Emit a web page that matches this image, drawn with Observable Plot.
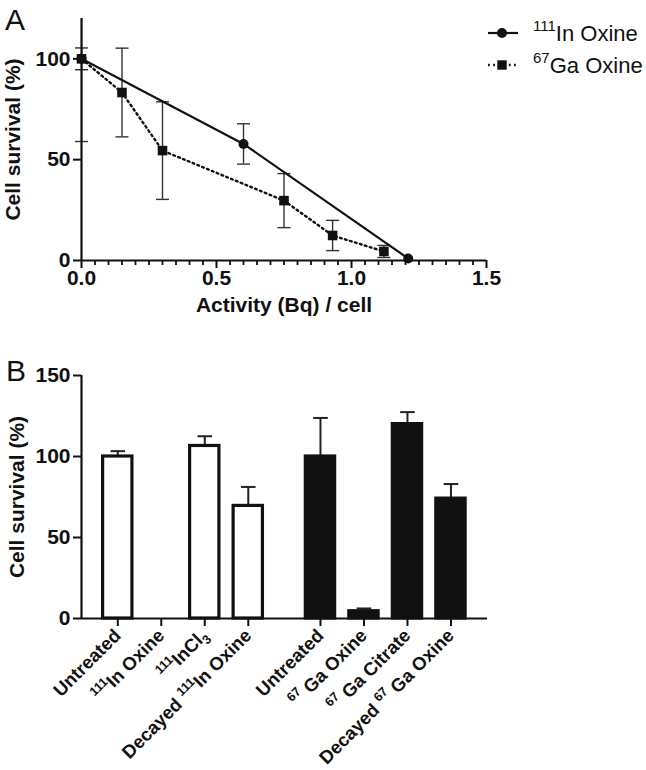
<!DOCTYPE html>
<html><head><meta charset="utf-8">
<script src="https://cdn.jsdelivr.net/npm/d3@7"></script>
<script src="https://cdn.jsdelivr.net/npm/@observablehq/plot@0.6"></script>
<style>
body{margin:0;background:#fff;font-family:"Liberation Sans",Arial,Helvetica,sans-serif;color:#111;}
#wrap{position:relative;width:646px;height:770px;overflow:hidden;}
.panel{position:absolute;left:0;}
.plabel{position:absolute;font-size:30px;line-height:1;color:#111;}
svg text{font-family:"Liberation Sans",Arial,Helvetica,sans-serif;}
</style></head>
<body>
<div id="wrap">
  <div class="panel" id="pa" style="top:0"></div>
  <div class="panel" id="pb" style="top:320px"></div>
  <div class="plabel" style="left:5px;top:5px">A</div>
  <div class="plabel" style="left:6px;top:356px">B</div>
  <svg id="legend" style="position:absolute;left:480px;top:15px" width="166" height="70"></svg>
</div>
<script>
// ---------- Panel A data ----------
const inActivity = [0, 0.6, 1.21];
const inSurvival = [100, 57.8, 1];
const inError    = [5.4, 10, 0];
const gaActivity = [0, 0.15, 0.3, 0.75, 0.93, 1.12];
const gaSurvival = [100, 83.3, 54.5, 29.7, 12.4, 4.5];
const gaError    = [41, 22, 24.2, 13.4, 7.5, 3];
const aXTicks = [0, 0.5, 1.0, 1.5];
const aYTicks = [0, 50, 100];
const seriesNames = ["¹¹¹In Oxine", "⁶⁷Ga Oxine"];

// ---------- Panel B data ----------
const bCategories = ["Untreated", "¹¹¹In Oxine", "¹¹¹InCl₃", "Decayed ¹¹¹In Oxine",
                     "Untreated", "⁶⁷ Ga Oxine", "⁶⁷ Ga Citrate", "Decayed ⁶⁷ Ga Oxine"];
const bGroups = ["In", "In", "In", "In", "Ga", "Ga", "Ga", "Ga"];
const bSurvival = [100, 0, 106.5, 69.5, 100, 4.5, 120, 74];
const bError    = [3.3, 0, 6, 11.7, 23.8, 1.7, 7.4, 9];
const bYTicks = [0, 50, 100, 150];

const FONT = "Liberation Sans, Arial, Helvetica, sans-serif";
const INK = "#111";
const FS = 21;
const BFS = 18.5;
const capSymbol = {draw(ctx, size){ const r = Math.sqrt(size / Math.PI); ctx.moveTo(-r, 0); ctx.lineTo(r, 0); }};

function rows(xs, ys, es, series){
  return xs.map((x, i) => ({x, y: ys[i], e: es[i], series}));
}
const inRows = rows(inActivity, inSurvival, inError, "In");
const gaRows = rows(gaActivity, gaSurvival, gaError, "Ga");
const allRows = inRows.concat(gaRows);
const errRows = allRows.filter(d => d.e > 0);
const capRows = errRows.flatMap(d => [{x: d.x, y: d.y - d.e}, {x: d.x, y: d.y + d.e}]);
const minorTicks = d3.range(1, 30).map(i => i * 0.05).filter(v => Math.abs(v * 2 - Math.round(v * 2)) > 1e-6);

const yTop = 120;
const plotA = Plot.plot({
  width: 646, height: 320,
  marginLeft: 81, marginRight: 160, marginTop: 18, marginBottom: 60,
  style: {fontFamily: FONT, color: INK, background: "white", overflow: "visible"},
  x: {domain: [0, 1.5]},
  y: {domain: [0, yTop]},
  marks: [
    Plot.ruleX(errRows, {x: "x", y1: d => d.y - d.e, y2: d => d.y + d.e, stroke: "#333", strokeWidth: 1.4, clip: true}),
    Plot.dot(capRows.filter(d => d.y <= yTop), {x: "x", y: "y", symbol: capSymbol, r: 6.5, fill: "none", stroke: "#333", strokeWidth: 1.4}),
    Plot.line(gaRows, {x: "x", y: "y", stroke: INK, strokeWidth: 2.4, strokeDasharray: "1.8 3.4"}),
    Plot.line(inRows, {x: "x", y: "y", stroke: INK, strokeWidth: 2.2}),
    Plot.dot(inRows, {x: "x", y: "y", r: 5, fill: INK}),
    Plot.dot(gaRows, {x: "x", y: "y", symbol: "square", r: 5.4, fill: INK}),
    Plot.ruleX([0], {stroke: INK, strokeWidth: 2.2}),
    Plot.ruleY([0], {stroke: INK, strokeWidth: 2.2}),
    Plot.axisY(aYTicks, {tickSize: 8, tickPadding: 3, fontSize: FS, fontWeight: "bold", strokeWidth: 2, label: null}),
    Plot.axisX(aXTicks, {tickSize: 8, tickPadding: 2, fontSize: FS, fontWeight: "bold", strokeWidth: 2, tickFormat: d3.format(".1f"), label: null}),
    Plot.axisX(minorTicks, {tickSize: 5, strokeWidth: 1.8, tickFormat: () => "", label: null}),
    Plot.text(["Cell survival (%)"], {frameAnchor: "left", textAnchor: "middle", rotate: -90, dx: -68, fontSize: FS, fontWeight: "bold", fill: INK}),
    Plot.text(["Activity (Bq) / cell"], {frameAnchor: "bottom", dy: 51, fontSize: FS, fontWeight: "bold", fill: INK})
  ]
});
document.getElementById("pa").appendChild(plotA);

// ---------- Panel B ----------
const groupGap = 0.66;   // extra spacing between the two groups
const groupOrder = ["In", "Ga"];
const bRows = bCategories.map((c, i) => ({
  label: c, group: bGroups[i], v: bSurvival[i], e: bError[i],
  pos: i + groupOrder.indexOf(bGroups[i]) * groupGap
}));
const half = 0.337;
const xDomB = [-0.834, bRows[bRows.length - 1].pos + 0.84];
const labelByPos = new Map(bRows.map(d => [d.pos, d.label]));

const plotB = Plot.plot({
  width: 646, height: 450,
  marginLeft: 81, marginRight: 159, marginTop: 55, marginBottom: 152,
  style: {fontFamily: FONT, color: INK, background: "white", overflow: "visible"},
  x: {type: "linear", domain: xDomB},
  y: {domain: [0, 150]},
  marks: [
    Plot.ruleX(bRows.filter(d => d.e > 0), {x: "pos", y1: "v", y2: d => d.v + d.e, stroke: "#222", strokeWidth: 2}),
    Plot.dot(bRows.filter(d => d.e > 0), {x: "pos", y: d => d.v + d.e, symbol: capSymbol, r: 7.3, fill: "none", stroke: "#222", strokeWidth: 2}),
    Plot.rectY(bRows.filter(d => d.v > 0), {x1: d => d.pos - half, x2: d => d.pos + half, y: "v",
      fill: d => d.group === "In" ? "white" : INK, stroke: INK, strokeWidth: 3.2}),
    Plot.ruleX([xDomB[0]], {stroke: INK, strokeWidth: 2.2}),
    Plot.ruleY([0], {stroke: INK, strokeWidth: 2.2}),
    Plot.axisY(bYTicks, {tickSize: 8, tickPadding: 3, fontSize: FS, fontWeight: "bold", strokeWidth: 2, label: null}),
    Plot.axisX(bRows.map(d => d.pos), {tickSize: 8, tickPadding: 6, tickRotate: -45, fontSize: BFS, fontWeight: "bold", strokeWidth: 2,
      tickFormat: p => labelByPos.get(p), label: null}),
    Plot.text(["Cell survival (%)"], {frameAnchor: "left", textAnchor: "middle", rotate: -90, dx: -64, fontSize: FS, fontWeight: "bold", fill: INK})
  ]
});
document.getElementById("pb").appendChild(plotB);

// superscript / subscript rendering for labels
const supMap = {"¹": "1", "⁶": "6", "⁷": "7"};
const subMap = {"₃": "3"};
function fancify(el, base){
  const s = el.textContent;
  if (!/[¹⁶⁷₃]/.test(s)) return;
  const runs = [];
  for (const ch of s) {
    const kind = supMap[ch] ? "sup" : subMap[ch] ? "sub" : "n";
    const c = supMap[ch] || subMap[ch] || ch;
    if (runs.length && runs[runs.length - 1].kind === kind) runs[runs.length - 1].t += c;
    else runs.push({kind, t: c});
  }
  el.textContent = "";
  let shift = 0;
  for (const r of runs) {
    const ts = document.createElementNS("http://www.w3.org/2000/svg", "tspan");
    const target = r.kind === "sup" ? -0.42 * base : r.kind === "sub" ? 0.25 * base : 0;
    ts.setAttribute("dy", (target - shift).toFixed(2));
    shift = target;
    if (r.kind !== "n") ts.setAttribute("font-size", (base * 0.68).toFixed(1));
    ts.textContent = r.t;
    el.appendChild(ts);
  }
}
plotB.querySelectorAll("text").forEach(t => fancify(t, BFS));

// legend
const lg = d3.select("#legend");
const legendRows = [{name: seriesNames[0], y: 18, kind: "In"}, {name: seriesNames[1], y: 50, kind: "Ga"}];
legendRows.forEach(r => {
  lg.append("line").attr("x1", 8).attr("x2", 38).attr("y1", r.y).attr("y2", r.y)
    .attr("stroke", INK).attr("stroke-width", r.kind === "In" ? 2.2 : 2.4)
    .attr("stroke-dasharray", r.kind === "In" ? null : "1.8 3.4");
  if (r.kind === "In") lg.append("circle").attr("cx", 22).attr("cy", r.y).attr("r", 5).attr("fill", INK);
  else lg.append("rect").attr("x", 17.3).attr("y", r.y - 4.7).attr("width", 9.4).attr("height", 9.4).attr("fill", INK);
  const t = lg.append("text").attr("x", 53).attr("y", r.y + 7.5).attr("font-size", 22).attr("fill", INK).text(r.name);
  fancify(t.node(), 22);
});
</script>
</body></html>
